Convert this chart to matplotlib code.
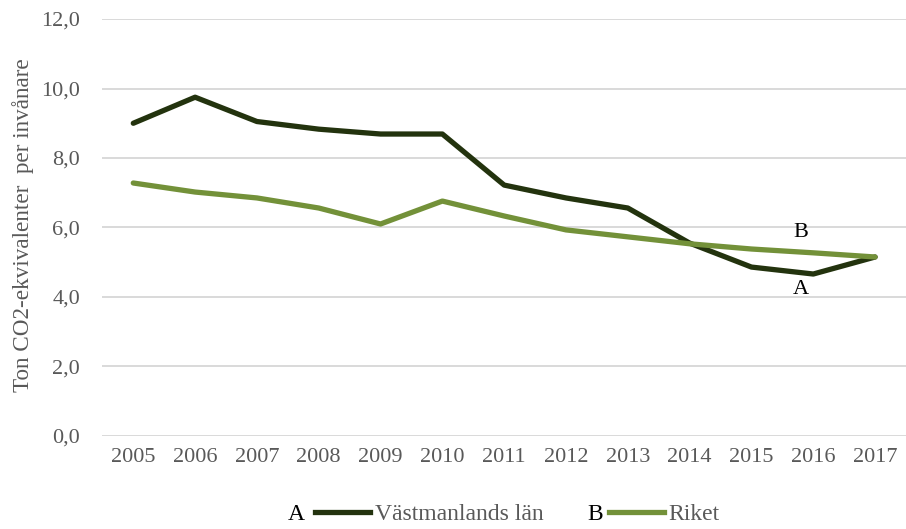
import matplotlib.pyplot as plt
from matplotlib.lines import Line2D

# Utsläpp per invånare, 2005-2017
years = ['2005', '2006', '2007', '2008', '2009', '2010', '2011',
         '2012', '2013', '2014', '2015', '2016', '2017']
vastmanland = [9.0, 9.75, 9.05, 8.83, 8.69, 8.69, 7.22,
               6.85, 6.56, 5.55, 4.86, 4.66, 5.15]
riket = [7.28, 7.02, 6.85, 6.56, 6.10, 6.76, 6.33,
         5.93, 5.73, 5.53, 5.38, 5.27, 5.15]
yticks = [0, 2, 4, 6, 8, 10, 12]

dark = '#23330e'
green = '#739139'
grey = '#595959'

plt.rcParams['font.family'] = ['Liberation Serif', 'DejaVu Serif']

fig = plt.figure(figsize=(9.06, 5.29), dpi=100)
ax = fig.add_axes([0.113, 0.176, 0.887, 0.788])

x = list(range(len(years)))
ax.plot(x, vastmanland, color=dark, linewidth=3.8, solid_capstyle='round')
ax.plot(x, riket, color=green, linewidth=3.8, solid_capstyle='round')

ax.set_xlim(-0.5, len(years) - 0.5)
ax.set_ylim(0, 12)
ax.set_yticks(yticks)
ax.set_yticklabels([f'{v:.1f}'.replace('.', ',') for v in yticks])
ax.set_xticks(x)
ax.set_xticklabels(years)
ax.tick_params(length=0, labelsize=16, labelcolor=grey, pad=9)
ax.tick_params(axis='y', pad=16)
ax.grid(axis='y', color='#d9d9d9', linewidth=1.4)
ax.set_axisbelow(True)
for s in ax.spines.values():
    s.set_visible(False)

ax.set_ylabel('Ton CO2-ekvivalenter  per invånare', fontsize=16.7, color=grey,
              va='center')
ax.yaxis.set_label_coords(-0.099, 0.506)

# etiketter på linjerna
ax.text(10.8, 5.85, 'B', fontsize=16, ha='center', va='center', color='black')
ax.text(10.8, 4.22, 'A', fontsize=16, ha='center', va='center', color='black')

# legend
handles = [Line2D([], [], color=dark, linewidth=3.8),
           Line2D([], [], color=green, linewidth=3.8)]
leg = fig.legend(handles, ['Västmanlands län', 'Riket'], loc='center',
                 bbox_to_anchor=(0.571, 0.027), ncol=2, frameon=False,
                 fontsize=17, handlelength=2.33, handletextpad=0.2,
                 columnspacing=2.75, borderpad=0, borderaxespad=0)
for t in leg.get_texts():
    t.set_color(grey)
fig.text(0.327, 0.027, 'A', fontsize=17, ha='center', va='center')
fig.text(0.657, 0.027, 'B', fontsize=17, ha='center', va='center')

fig.savefig('out.png', dpi=100)
